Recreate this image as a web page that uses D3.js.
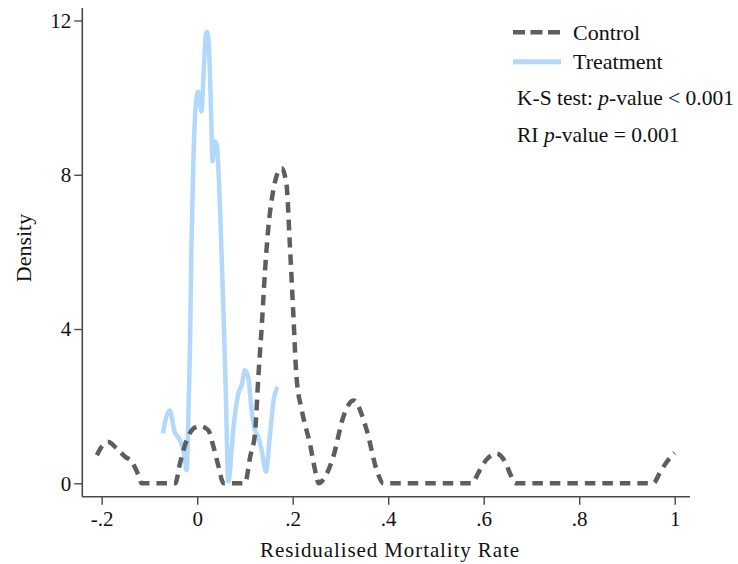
<!DOCTYPE html>
<html>
<head>
<meta charset="utf-8">
<script src="https://cdn.jsdelivr.net/npm/d3@7"></script>
<style>
  body { margin: 0; background: #fff; }
  svg text { font-family: "Liberation Serif", serif; fill: #111; }
</style>
</head>
<body>
<svg width="738" height="564"></svg>
<script>
// kernel density estimates
var controlX = [-0.21, -0.2, -0.186, -0.17, -0.151, -0.137, -0.123, -0.116, -0.08, -0.046, -0.036, -0.022, -0.008, 0.006, 0.023, 0.034, 0.044, 0.055, 0.08, 0.10,
  0.111, 0.121, 0.128, 0.135, 0.142, 0.149, 0.159, 0.170, 0.177, 0.187, 0.194, 0.201, 0.208, 0.219, 0.236, 0.25, 0.254,
  0.263, 0.285, 0.306, 0.327, 0.355, 0.376, 0.39, 0.48, 0.575, 0.59, 0.605, 0.627, 0.645, 0.657, 0.666, 0.8, 0.955, 0.97, 0.985, 1.0];
var controlY = [0.73, 0.95, 1.07, 0.92, 0.69, 0.56, 0.21, 0, 0, 0, 0.52, 1.12, 1.42, 1.48, 1.38, 0.95, 0.47, 0, 0, 0,
  0.69, 1.29, 2.75, 4.04, 5.5, 6.63, 7.57, 8.09, 8.17, 7.75, 6.2, 4.47, 2.75, 1.9, 1.03, 0.17, 0,
  0.08, 0.69, 1.72, 2.15, 1.38, 0.34, 0, 0, 0, 0.3, 0.6, 0.77, 0.55, 0.2, 0, 0, 0, 0.3, 0.58, 0.79];

var treatX = [-0.072, -0.058, -0.046, -0.040, -0.029, -0.022, -0.019, -0.015, -0.012, -0.008, -0.003, 0.002, 0.009, 0.013, 0.018, 0.021, 0.025, 0.029, 0.032, 0.037, 0.041,
  0.048, 0.055, 0.060, 0.065, 0.076, 0.086, 0.093, 0.100, 0.107, 0.114, 0.121, 0.128, 0.135, 0.144, 0.152, 0.159, 0.168];
var treatY = [1.29, 1.89, 1.29, 1.2, 0.86, 0.34, 1.46, 3.6, 6.2, 8.35, 9.81, 10.15, 9.64, 10.5, 11.62, 11.7, 11.19, 9.64, 8.35, 8.86, 8.78,
  7.06, 4.47, 2.32, 0.05, 1.46, 2.32, 2.54, 2.93, 2.75, 1.89, 1.38, 1.2, 0.86, 0.3, 1.2, 2.07, 2.5];

var xTicks = [-0.2, 0, 0.2, 0.4, 0.6, 0.8, 1];
var xTickLabels = ["-.2", "0", ".2", ".4", ".6", ".8", "1"];
var yTicks = [0, 4, 8, 12];

var svg = d3.select("svg");

var x = d3.scaleLinear().domain([-0.2, 1]).range([101.7, 674.7]);
var y = d3.scaleLinear().domain([0, 12]).range([483.3, 20.5]);

var axisColor = "#4a4a4a";

// axes
var xAxis = svg.append("g")
  .attr("transform", "translate(0,496.7)")
  .call(d3.axisBottom(x).tickValues(xTicks).tickSize(8).tickPadding(5)
    .tickFormat(function(d, i) { return xTickLabels[i]; }));
xAxis.select(".domain").attr("d", "M82.3,0H690");

var yAxis = svg.append("g")
  .attr("transform", "translate(82.3,0)")
  .call(d3.axisLeft(y).tickValues(yTicks).tickSize(8).tickPadding(3));
yAxis.select(".domain").attr("d", "M0,8V496.7");

svg.selectAll(".domain").attr("stroke", axisColor).attr("stroke-width", 1.6);
svg.selectAll(".tick line").attr("stroke", axisColor).attr("stroke-width", 1.4);
svg.selectAll(".tick text").attr("font-size", 21).attr("font-family", "Liberation Serif").attr("fill", "#111");
xAxis.selectAll(".tick text").attr("dy", "0.8em");

// curves
var line = d3.line()
  .x(function(d) { return x(d[0]); })
  .y(function(d) { return y(d[1]); })
  .curve(d3.curveMonotoneX);

var treatColor = "#b2d8fb";
var controlColor = "#5e5e5e";

svg.append("path")
  .datum(d3.zip(treatX, treatY))
  .attr("d", line)
  .attr("fill", "none")
  .attr("stroke", treatColor)
  .attr("stroke-width", 4.5)
  .attr("stroke-linejoin", "round");

svg.append("path")
  .datum(d3.zip(controlX, controlY))
  .attr("d", line)
  .attr("fill", "none")
  .attr("stroke", controlColor)
  .attr("stroke-width", 4.5)
  .attr("stroke-dasharray", "10.5,7");

// axis titles
svg.append("text")
  .attr("x", 390).attr("y", 557)
  .attr("text-anchor", "middle")
  .attr("font-size", 21)
  .attr("letter-spacing", 0.9)
  .text("Residualised Mortality Rate");

svg.append("text")
  .attr("transform", "translate(31,248) rotate(-90)")
  .attr("text-anchor", "middle")
  .attr("font-size", 22)
  .text("Density");

// legend
var legend = svg.append("g");
legend.append("line")
  .attr("x1", 513).attr("x2", 561).attr("y1", 32.3).attr("y2", 32.3)
  .attr("stroke", controlColor).attr("stroke-width", 4.5).attr("stroke-dasharray", "12,5.5");
legend.append("line")
  .attr("x1", 513).attr("x2", 561).attr("y1", 61.7).attr("y2", 61.7)
  .attr("stroke", treatColor).attr("stroke-width", 5);
legend.append("text").attr("x", 573).attr("y", 40).attr("font-size", 22).text("Control");
legend.append("text").attr("x", 573).attr("y", 69).attr("font-size", 22).text("Treatment");

var ks = legend.append("text").attr("x", 517).attr("y", 105).attr("font-size", 21.5);
ks.append("tspan").text("K-S test: ");
ks.append("tspan").attr("font-style", "italic").text("p");
ks.append("tspan").text("-value < 0.001");

var ri = legend.append("text").attr("x", 517).attr("y", 142).attr("font-size", 21.5);
ri.append("tspan").text("RI ");
ri.append("tspan").attr("font-style", "italic").text("p");
ri.append("tspan").text("-value = 0.001");
</script>
</body>
</html>
